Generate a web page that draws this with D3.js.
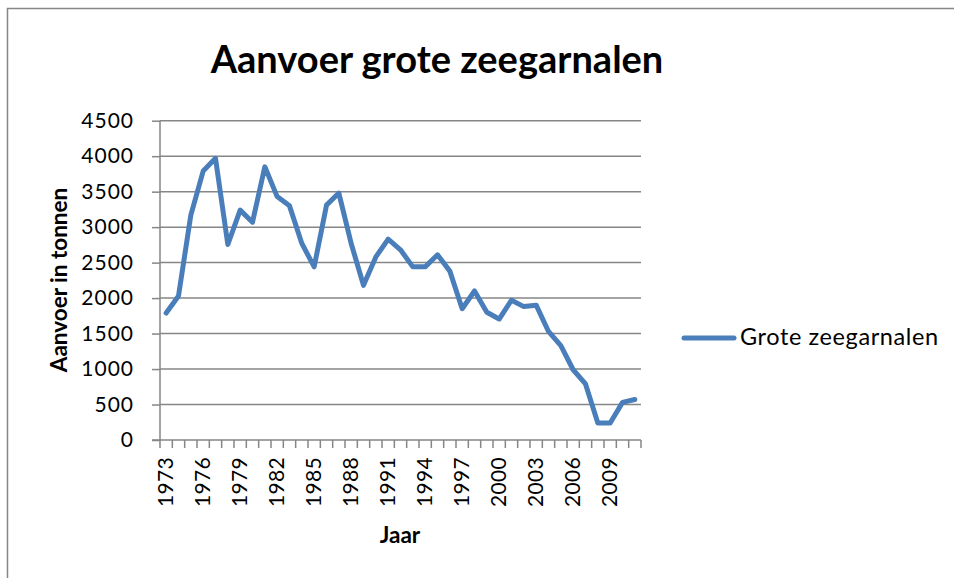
<!DOCTYPE html>
<html>
<head>
<meta charset="utf-8">
<script src="https://cdn.jsdelivr.net/npm/d3@7"></script>
<style>
  body { margin: 0; background: #fff; }
  text { font-family: Lato, "Liberation Sans", sans-serif; fill: #000; }
</style>
</head>
<body>
<script>
// data
var years = d3.range(1973, 2012);
var values = [1790, 2030, 3170, 3790, 3970, 2755, 3240, 3070, 3850, 3430,
              3300, 2770, 2440, 3310, 3480, 2770, 2180, 2580, 2830, 2680,
              2440, 2440, 2610, 2380, 1850, 2100, 1800, 1705, 1970, 1880,
              1900, 1530, 1330, 990, 790, 240, 240, 530, 570];
var yTicks = [0, 500, 1000, 1500, 2000, 2500, 3000, 3500, 4000, 4500];
var seriesName = "Grote zeegarnalen";

var width = 954,
    height = 578;

var svg = d3.select("body")
  .append("svg")
  .attr("width", width)
  .attr("height", height);

// chart frame
svg.append("rect")
  .attr("x", 7.5).attr("y", 8.5)
  .attr("width", width + 10).attr("height", height + 10)
  .attr("fill", "none")
  .attr("stroke", "#868686")
  .attr("stroke-width", 1.5);

var plot = {left: 160, right: 641, top: 120.7, bottom: 440};

var x = d3.scaleBand()
  .domain(years)
  .range([plot.left, plot.right])
  .paddingInner(0).paddingOuter(0);

var y = d3.scaleLinear()
  .domain([0, 4500])
  .range([plot.bottom, plot.top]);

// y axis ticks and labels
var yAxis = svg.append("g")
  .attr("transform", "translate(" + plot.left + ",0)")
  .call(d3.axisLeft(y)
    .tickValues(yTicks)
    .tickSize(8)
    .tickPadding(18)
    .tickFormat(d3.format("d")));
yAxis.select(".domain").remove();
yAxis.selectAll(".tick line").attr("stroke", "#868686").attr("stroke-width", 1.5);
yAxis.selectAll(".tick text")
  .style("font-size", "21px")
  .style("letter-spacing", "1px");

// gridlines
svg.append("g")
  .selectAll("line")
  .data(yTicks.filter(function(d) { return d > 0; }))
  .enter()
  .append("line")
  .attr("x1", plot.left).attr("x2", plot.right)
  .attr("y1", function(d) { return y(d); })
  .attr("y2", function(d) { return y(d); })
  .attr("stroke", "#868686")
  .attr("stroke-width", 1.5);

// axis lines
svg.append("line")
  .attr("x1", plot.left).attr("x2", plot.left)
  .attr("y1", plot.top).attr("y2", plot.bottom)
  .attr("stroke", "#868686").attr("stroke-width", 1.5);
svg.append("line")
  .attr("x1", plot.left - 8).attr("x2", plot.right)
  .attr("y1", plot.bottom).attr("y2", plot.bottom)
  .attr("stroke", "#868686").attr("stroke-width", 1.5);

// category ticks between years
var boundaries = years.map(function(d) { return x(d); }).concat([plot.right]);
svg.append("g")
  .selectAll("line")
  .data(boundaries)
  .enter()
  .append("line")
  .attr("x1", function(d) { return d; })
  .attr("x2", function(d) { return d; })
  .attr("y1", plot.bottom).attr("y2", plot.bottom + 8)
  .attr("stroke", "#868686").attr("stroke-width", 1.5);

// x labels, every third year
svg.append("g")
  .selectAll("text")
  .data(years.filter(function(d, i) { return i % 3 === 0; }))
  .enter()
  .append("text")
  .attr("transform", function(d) {
    return "translate(" + (x(d) + x.bandwidth() / 2 + 7) + "," + (plot.bottom + 17) + ") rotate(-90)";
  })
  .attr("text-anchor", "end")
  .style("font-size", "21px")
  .style("letter-spacing", "0.3px")
  .text(function(d) { return d; });

// the line
var line = d3.line()
  .x(function(d, i) { return x(years[i]) + x.bandwidth() / 2; })
  .y(function(d) { return y(d); });

svg.append("path")
  .datum(values)
  .attr("d", line)
  .attr("fill", "none")
  .attr("stroke", "#4a7ebb")
  .attr("stroke-width", 5)
  .attr("stroke-linejoin", "round")
  .attr("stroke-linecap", "round");

// title
svg.append("text")
  .attr("x", 437).attr("y", 73)
  .attr("text-anchor", "middle")
  .style("font-size", "38px")
  .style("font-weight", "bold")
  .text("Aanvoer grote zeegarnalen");

// axis titles
svg.append("text")
  .attr("transform", "translate(67,280) rotate(-90)")
  .attr("text-anchor", "middle")
  .style("font-size", "22.5px")
  .style("font-weight", "bold")
  .text("Aanvoer in tonnen");

svg.append("text")
  .attr("x", 400).attr("y", 543)
  .attr("text-anchor", "middle")
  .style("font-size", "22.5px")
  .style("font-weight", "bold")
  .text("Jaar");

// legend
svg.append("line")
  .attr("x1", 684).attr("x2", 734)
  .attr("y1", 338).attr("y2", 338)
  .attr("stroke", "#4a7ebb")
  .attr("stroke-width", 5)
  .attr("stroke-linecap", "round");
svg.append("text")
  .attr("x", 740).attr("y", 345)
  .style("font-size", "23.5px")
  .style("letter-spacing", "0.6px")
  .text(seriesName);
</script>
</body>
</html>
